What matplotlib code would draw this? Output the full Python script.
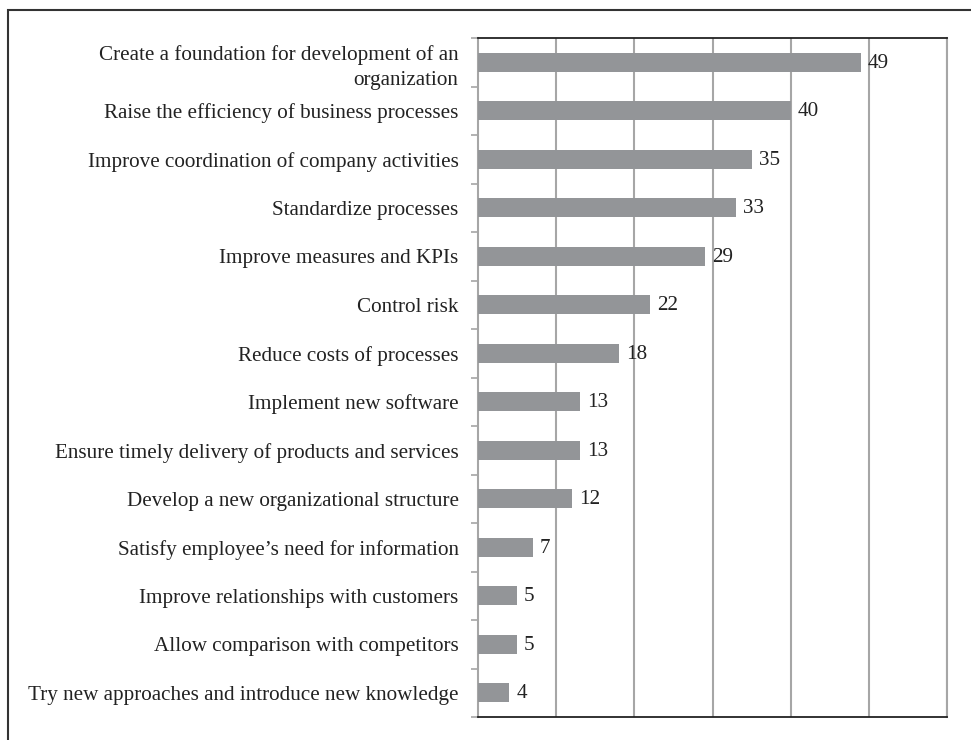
import numpy as np
import matplotlib.pyplot as plt
from matplotlib.patches import Rectangle

# data (top to bottom)
categories = [
    "Create a foundation for development of an\norganization",
    "Raise the efficiency of business processes",
    "Improve coordination of company activities",
    "Standardize processes",
    "Improve measures and KPIs",
    "Control risk",
    "Reduce costs of processes",
    "Implement new software",
    "Ensure timely delivery of products and services",
    "Develop a new organizational structure",
    "Satisfy employee\u2019s need for information",
    "Improve relationships with customers",
    "Allow comparison with competitors",
    "Try new approaches and introduce new knowledge",
]
values = [49, 40, 35, 33, 29, 22, 18, 13, 13, 12, 7, 5, 5, 4]

plt.rcParams['font.family'] = ['Liberation Serif', 'DejaVu Serif']
plt.rcParams['font.size'] = 15.2

W, H = 971, 740
fig = plt.figure(figsize=(W / 100, H / 100), dpi=100)
ax = fig.add_axes([478 / W, 1 - 717 / H, (947 - 478) / W, (717 - 38) / H])

n = len(categories)
y = np.arange(n)[::-1]
ax.barh(y, values, height=0.4, color='#939598', zorder=3)

for yi, v in zip(y, values):
    ax.annotate(str(v), (v, yi), xytext=(7, -1), textcoords='offset pixels',
                va='center', ha='left', color='#222222')

ax.set_xlim(0, 60)
ax.set_ylim(-0.5, n - 0.5)
ax.set_xticks(np.arange(10, 61, 10))
ax.tick_params(axis='x', length=0, labelbottom=False)
ax.grid(axis='x', color='#a6a6a6', linewidth=1.5, zorder=0)

ax.set_yticks(y)
ax.set_yticklabels(categories, ha='right', linespacing=1.4)
ax.tick_params(axis='y', which='major', length=0, pad=14, labelcolor='#222222')
ax.set_yticks(np.arange(-0.5, n, 1.0), minor=True)
ax.tick_params(axis='y', which='minor', length=5, width=1.2, color='#a6a6a6')

ax.spines['left'].set_color('#a6a6a6')
ax.spines['left'].set_linewidth(1.5)
ax.spines['right'].set_color('#a6a6a6')
ax.spines['right'].set_linewidth(1.5)
ax.spines['top'].set_color('#222222')
ax.spines['top'].set_linewidth(1.3)
ax.spines['bottom'].set_color('#222222')
ax.spines['bottom'].set_linewidth(1.3)

# outer frame (only left/top visible in the crop)
fig.patches.append(Rectangle((8 / W, -0.1), 1.2, 1 - 10 / H + 0.1,
                             transform=fig.transFigure, fill=False,
                             edgecolor='#333333', linewidth=1.5))

fig.savefig('out.png', dpi=100)
